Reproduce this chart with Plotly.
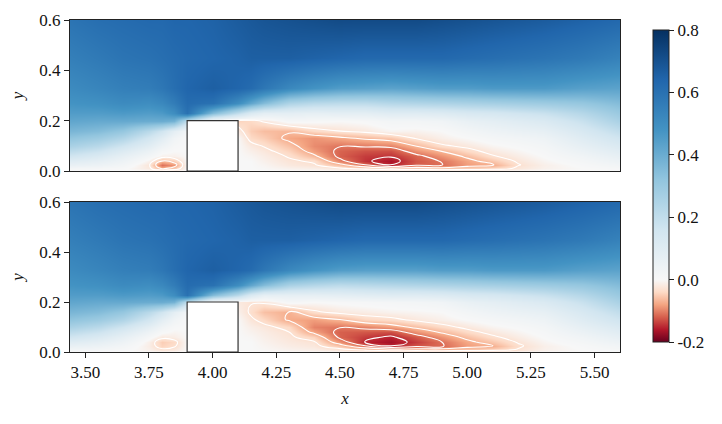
import numpy as np
import plotly.graph_objects as go

# grid nodes
x_nodes = [3.44, 3.55, 3.65, 3.75, 3.8, 3.85, 3.9, 4.0, 4.1, 4.15, 4.2, 4.3, 4.4,
           4.5, 4.6, 4.7, 4.8, 4.9, 5.0, 5.1, 5.2, 5.3, 5.45, 5.6]
y_nodes = [0, 0.01, 0.025, 0.04, 0.06, 0.08, 0.1, 0.13, 0.16, 0.2, 0.23, 0.27, 0.33, 0.45, 0.6]

# streamwise velocity, one list per x node (bottom -> top), top panel
u_top_cols = [
    [0, 0.02, 0.06, 0.1, 0.16, 0.21, 0.26, 0.32, 0.37, 0.42, 0.45, 0.48, 0.51, 0.55, 0.59],
    [0, 0.015, 0.045, 0.075, 0.12, 0.17, 0.22, 0.29, 0.35, 0.41, 0.45, 0.49, 0.53, 0.57, 0.61],
    [0, 0.005, 0.02, 0.04, 0.07, 0.11, 0.16, 0.24, 0.31, 0.41, 0.46, 0.51, 0.55, 0.59, 0.62],
    [0, -0.02, -0.025, -0.01, 0.02, 0.05, 0.09, 0.15, 0.22, 0.4, 0.45, 0.5, 0.56, 0.6, 0.63],
    [0, -0.075, -0.11, -0.068, -0.01, 0.01, 0.04, 0.09, 0.16, 0.4, 0.46, 0.52, 0.58, 0.61, 0.63],
    [0, -0.055, -0.088, -0.05, -0.01, 0.0, 0.01, 0.03, 0.08, 0.38, 0.5, 0.56, 0.61, 0.62, 0.64],
    [0, 0, 0, 0, 0, 0, 0, 0, 0.02, 0.2, 0.6, 0.62, 0.64, 0.63, 0.64],
    [0, 0, 0, 0, 0, 0, 0, 0, 0, -0.02, 0.35, 0.6, 0.66, 0.64, 0.65],
    [0, 0, 0, 0, 0, 0, 0, 0, -0.02, -0.045, 0.2, 0.5, 0.64, 0.65, 0.67],
    [0, 0, 0, 0, -0.005, -0.012, -0.02, -0.04, -0.05, -0.04, 0.12, 0.42, 0.62, 0.66, 0.68],
    [0, -0.002, -0.005, -0.01, -0.015, -0.022, -0.032, -0.05, -0.062, -0.025, 0.08, 0.35, 0.58, 0.66, 0.69],
    [0, -0.01, -0.02, -0.026, -0.033, -0.045, -0.058, -0.078, -0.066, 0.01, 0.08, 0.25, 0.52, 0.66, 0.7],
    [0, -0.015, -0.028, -0.034, -0.065, -0.085, -0.095, -0.09, -0.04, 0.005, 0.07, 0.22, 0.48, 0.65, 0.71],
    [0, -0.025, -0.06, -0.1, -0.12, -0.118, -0.108, -0.078, -0.028, 0.0, 0.08, 0.21, 0.45, 0.64, 0.72],
    [0, -0.04, -0.11, -0.145, -0.14, -0.128, -0.105, -0.065, -0.02, 0.005, 0.08, 0.21, 0.44, 0.63, 0.72],
    [0, -0.06, -0.155, -0.165, -0.145, -0.13, -0.1, -0.055, -0.005, 0.02, 0.1, 0.23, 0.43, 0.63, 0.72],
    [0, -0.05, -0.12, -0.125, -0.118, -0.092, -0.068, -0.028, -0.008, 0.02, 0.1, 0.24, 0.44, 0.63, 0.72],
    [0, -0.06, -0.112, -0.108, -0.09, -0.068, -0.035, -0.012, 0.0, 0.03, 0.11, 0.25, 0.45, 0.63, 0.71],
    [0, -0.05, -0.085, -0.08, -0.062, -0.04, -0.022, 0.0, 0.02, 0.06, 0.13, 0.26, 0.45, 0.62, 0.7],
    [0, -0.045, -0.074, -0.055, -0.032, -0.018, -0.005, 0.015, 0.04, 0.08, 0.14, 0.27, 0.46, 0.61, 0.69],
    [0, -0.025, -0.032, -0.025, -0.015, -0.005, 0.005, 0.025, 0.055, 0.1, 0.16, 0.28, 0.46, 0.6, 0.68],
    [0, -0.01, -0.012, -0.006, 0.002, 0.01, 0.02, 0.04, 0.07, 0.12, 0.18, 0.29, 0.46, 0.59, 0.67],
    [0, 0.0, 0.005, 0.015, 0.03, 0.05, 0.07, 0.1, 0.13, 0.18, 0.23, 0.31, 0.44, 0.57, 0.65],
    [0, 0.01, 0.025, 0.045, 0.07, 0.095, 0.12, 0.16, 0.2, 0.26, 0.3, 0.35, 0.43, 0.54, 0.63],
]

# bottom panel
u_bot_cols = [
    [0, 0.02, 0.06, 0.1, 0.16, 0.21, 0.26, 0.32, 0.37, 0.42, 0.45, 0.48, 0.51, 0.55, 0.59],
    [0, 0.015, 0.045, 0.075, 0.12, 0.17, 0.22, 0.29, 0.35, 0.41, 0.45, 0.49, 0.53, 0.57, 0.61],
    [0, 0.005, 0.02, 0.04, 0.07, 0.11, 0.16, 0.24, 0.31, 0.41, 0.46, 0.51, 0.55, 0.59, 0.62],
    [0, -0.01, -0.015, -0.012, 0.01, 0.04, 0.08, 0.15, 0.22, 0.4, 0.45, 0.5, 0.56, 0.6, 0.63],
    [0, -0.025, -0.045, -0.05, -0.02, 0.005, 0.03, 0.08, 0.16, 0.4, 0.46, 0.52, 0.58, 0.61, 0.63],
    [0, -0.02, -0.035, -0.04, -0.015, -0.005, 0.005, 0.03, 0.08, 0.38, 0.5, 0.56, 0.61, 0.62, 0.64],
    [0, 0, 0, 0, 0, 0, 0, 0, 0.02, 0.2, 0.6, 0.62, 0.64, 0.63, 0.64],
    [0, 0, 0, 0, 0, 0, 0, 0, 0, -0.01, 0.35, 0.6, 0.66, 0.64, 0.65],
    [0, 0, 0, 0, 0, 0, 0, 0, -0.01, -0.02, 0.22, 0.5, 0.64, 0.65, 0.67],
    [0, 0, 0, 0, -0.003, -0.008, -0.013, -0.025, -0.035, -0.028, 0.12, 0.42, 0.62, 0.66, 0.68],
    [0, -0.002, -0.005, -0.008, -0.012, -0.016, -0.022, -0.04, -0.06, -0.025, 0.07, 0.35, 0.58, 0.66, 0.69],
    [0, -0.008, -0.015, -0.02, -0.025, -0.03, -0.04, -0.075, -0.072, 0.01, 0.07, 0.26, 0.52, 0.66, 0.7],
    [0, -0.012, -0.022, -0.028, -0.045, -0.08, -0.1, -0.085, -0.035, 0.0, 0.07, 0.23, 0.48, 0.65, 0.71],
    [0, -0.022, -0.055, -0.09, -0.118, -0.12, -0.108, -0.07, -0.02, 0.005, 0.08, 0.21, 0.45, 0.64, 0.72],
    [0, -0.04, -0.11, -0.153, -0.14, -0.125, -0.1, -0.045, -0.015, 0.01, 0.09, 0.22, 0.44, 0.63, 0.72],
    [0, -0.06, -0.152, -0.168, -0.155, -0.13, -0.085, -0.038, -0.008, 0.015, 0.1, 0.23, 0.44, 0.63, 0.72],
    [0, -0.055, -0.125, -0.14, -0.125, -0.092, -0.062, -0.022, -0.005, 0.02, 0.1, 0.24, 0.44, 0.63, 0.72],
    [0, -0.06, -0.115, -0.11, -0.09, -0.065, -0.04, -0.012, 0.0, 0.03, 0.11, 0.25, 0.45, 0.63, 0.71],
    [0, -0.05, -0.085, -0.078, -0.06, -0.04, -0.022, 0.0, 0.02, 0.06, 0.13, 0.26, 0.45, 0.62, 0.7],
    [0, -0.045, -0.072, -0.055, -0.035, -0.02, -0.006, 0.012, 0.04, 0.08, 0.14, 0.27, 0.46, 0.61, 0.69],
    [0, -0.028, -0.035, -0.027, -0.016, -0.006, 0.004, 0.024, 0.055, 0.1, 0.16, 0.28, 0.46, 0.6, 0.68],
    [0, -0.01, -0.012, -0.006, 0.002, 0.01, 0.02, 0.04, 0.07, 0.12, 0.18, 0.29, 0.46, 0.59, 0.67],
    [0, 0.0, 0.005, 0.015, 0.03, 0.05, 0.07, 0.1, 0.13, 0.18, 0.23, 0.31, 0.44, 0.57, 0.65],
    [0, 0.01, 0.025, 0.045, 0.07, 0.095, 0.12, 0.16, 0.2, 0.26, 0.3, 0.35, 0.43, 0.54, 0.63],
]

# obstacle (cube) geometry
cube_x0, cube_x1, cube_h = 3.9, 4.1, 0.2

# contour line levels
level_start, level_end, level_step = -0.15, -0.03, 0.04

x_ticks = [3.5, 3.75, 4.0, 4.25, 4.5, 4.75, 5.0, 5.25, 5.5]
y_ticks = [0.0, 0.2, 0.4, 0.6]
cb_ticks = [-0.2, 0.0, 0.2, 0.4, 0.6, 0.8]
cb_labels = ["-0.2", "0.0", "0.2", "0.4", "0.6", "0.8"]

z_top = np.array(u_top_cols).T
z_bot = np.array(u_bot_cols).T

# RdBu with two-slope normalisation (vmin=-0.2, vcenter=0, vmax=0.8)
colorscale = [
    [0.00, "#67001f"], [0.04, "#b2182b"], [0.08, "#d6604d"], [0.12, "#f4a582"],
    [0.16, "#fddbc7"], [0.20, "#f7f7f7"], [0.36, "#d1e5f0"], [0.52, "#92c5de"],
    [0.68, "#4393c3"], [0.84, "#2166ac"], [1.00, "#053061"],
]

# page body has an 8 px margin: figure is sized to fit inside the 722x424 window
OFF = 8
FW, FH = 722 - 2 * OFF, 424 - 2 * OFF


def px_x(p):
    return (p - OFF) / FW


def px_y(p):
    return 1 - (p - OFF) / FH


FONT = "Liberation Serif"
FS = 17

fig = go.Figure()
for z, xa, ya, show in [(z_top, "x", "y", True), (z_bot, "x2", "y2", False)]:
    fig.add_trace(go.Heatmap(
        x=x_nodes, y=y_nodes, z=z, zsmooth="best", colorscale=colorscale,
        zmin=-0.2, zmax=0.8, xaxis=xa, yaxis=ya, showscale=show, hoverinfo="skip",
        colorbar=dict(
            x=px_x(653), xanchor="left", y=px_y(186), yanchor="middle",
            len=312 / FH, lenmode="fraction", thickness=16, thicknessmode="pixels",
            xpad=0, ypad=0, outlinewidth=1, outlinecolor="#222",
            ticks="outside", ticklen=5, tickwidth=1, tickcolor="#222",
            tickvals=cb_ticks, ticktext=cb_labels,
            tickfont=dict(family=FONT, size=FS, color="#111"),
        ),
    ))
    fig.add_trace(go.Contour(
        x=x_nodes, y=y_nodes, z=z, xaxis=xa, yaxis=ya, showscale=False,
        hoverinfo="skip", colorscale=[[0, "white"], [1, "white"]],
        contours=dict(coloring="lines", start=level_start, end=level_end,
                      size=level_step, showlabels=False),
        line=dict(width=1.1, smoothing=1.3),
    ))

x_dom = [px_x(70), px_x(620)]
ax_common = dict(showline=True, mirror=True, linecolor="#222", linewidth=1,
                 zeroline=False, showgrid=False, automargin=False,
                 tickfont=dict(family=FONT, size=FS, color="#111"),
                 ticklen=5, tickwidth=1, tickcolor="#222")

fig.update_layout(
    width=FW, height=FH, margin=dict(l=0, r=0, t=0, b=0, autoexpand=False),
    paper_bgcolor="white", plot_bgcolor="white", showlegend=False,
    font=dict(family=FONT, size=FS, color="#111"),
    xaxis=dict(domain=x_dom, anchor="y", range=[3.44, 5.6], showticklabels=False,
               ticks="", **ax_common),
    yaxis=dict(domain=[px_y(171), px_y(20)], anchor="x", range=[0, 0.6],
               tickvals=y_ticks, tickformat=".1f", ticks="outside",
               title=dict(text="<i>y</i>", standoff=13,
                          font=dict(family=FONT, size=FS)), **ax_common),
    xaxis2=dict(domain=x_dom, anchor="y2", range=[3.44, 5.6], tickvals=x_ticks,
                tickformat=".2f", ticks="outside",
                title=dict(text="<i>x</i>", standoff=10,
                           font=dict(family=FONT, size=FS)), **ax_common),
    yaxis2=dict(domain=[px_y(352), px_y(202)], anchor="x2", range=[0, 0.6],
                tickvals=y_ticks, tickformat=".1f", ticks="outside",
                title=dict(text="<i>y</i>", standoff=13,
                           font=dict(family=FONT, size=FS)), **ax_common),
)

for xr, yr in [("x", "y"), ("x2", "y2")]:
    fig.add_shape(type="rect", xref=xr, yref=yr, x0=cube_x0, x1=cube_x1, y0=0, y1=cube_h,
                  fillcolor="white", line=dict(color="#333", width=1.2), layer="above")

fig.write_html("out.html")
